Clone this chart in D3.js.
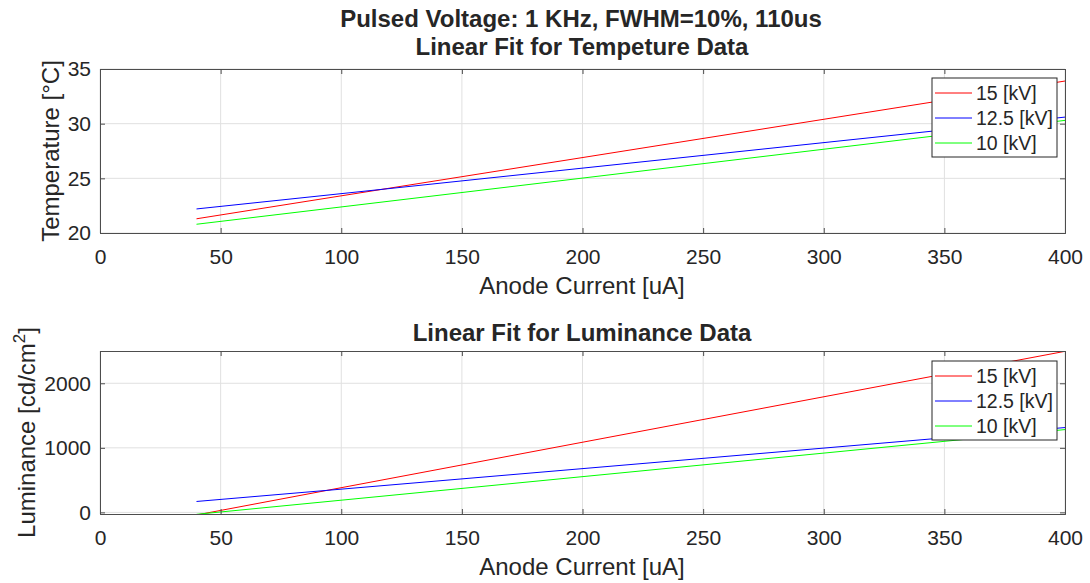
<!DOCTYPE html>
<html>
<head>
<meta charset="utf-8">
<script src="https://cdn.jsdelivr.net/npm/d3@7"></script>
<style>
  body { margin: 0; background: #fff; }
  text { font-family: "Liberation Sans", Arial, sans-serif; fill: #262626; }
  .grid line { stroke: #e0e0e0; stroke-width: 1; }
  .axis path, .axis line { stroke: #4d4d4d; }
</style>
</head>
<body>
<div id="chart"></div>
<script>
// datos
const series = ["15 [kV]", "12.5 [kV]", "10 [kV]"]
const colores = ["#ff0000", "#0000ff", "#00ff00"]
const corriente = [40, 400]
const tempFit = [
  [21.3, 33.9],
  [22.2, 30.6],
  [20.8, 30.3]
]
const lumFit = [
  [-40, 2495],
  [169, 1314],
  [-30, 1283]
]
const xTicks = [0, 50, 100, 150, 200, 250, 300, 350, 400]
const tempTicks = [20, 25, 30, 35]
const lumTicks = [0, 1000, 2000]

const W = 1090, H = 583
const svg = d3.select("#chart").append("svg")
  .attr("width", W).attr("height", H)

const left = 100, right = 1065

// titulo general
svg.append("text").attr("x", 581).attr("y", 27)
  .attr("text-anchor", "middle").attr("font-size", 24).attr("font-weight", "bold")
  .attr("fill", "#000")
  .text("Pulsed Voltage: 1 KHz, FWHM=10%, 110us")

function panel(cfg) {
  const x = d3.scaleLinear().domain([0, 400]).range([left, right])
  const y = d3.scaleLinear().domain(cfg.yDomain).range([cfg.bottom, cfg.top])
  const g = svg.append("g")

  // grid
  const grid = g.append("g").attr("class", "grid")
  grid.selectAll(".gx").data(xTicks).enter().append("line")
    .attr("x1", d => x(d)).attr("x2", d => x(d))
    .attr("y1", cfg.top).attr("y2", cfg.bottom)
  grid.selectAll(".gy").data(cfg.yTicks).enter().append("line")
    .attr("x1", left).attr("x2", right)
    .attr("y1", d => y(d)).attr("y2", d => y(d))

  // lineas
  const clipId = "clip" + cfg.top
  g.append("clipPath").attr("id", clipId).append("rect")
    .attr("x", left).attr("y", cfg.top).attr("width", right - left).attr("height", cfg.bottom - cfg.top)
  const line = d3.line().x((d, i) => x(corriente[i])).y(d => y(d))
  g.append("g").attr("clip-path", `url(#${clipId})`)
    .selectAll("path").data(cfg.data).enter().append("path")
    .attr("d", d => line(d))
    .attr("fill", "none")
    .attr("stroke", (d, i) => colores[i])
    .attr("stroke-width", 1)

  // ejes
  const tl = 5
  g.append("g").attr("class", "axis").attr("transform", `translate(0,${cfg.bottom})`)
    .call(d3.axisBottom(x).tickValues(xTicks).tickSize(-tl))
    .call(a => a.selectAll("text").attr("font-size", 21).attr("dy", null).attr("y", 31))
  g.append("g").attr("class", "axis").attr("transform", `translate(0,${cfg.top})`)
    .call(d3.axisTop(x).tickValues(xTicks).tickSize(-tl).tickFormat(""))
  g.append("g").attr("class", "axis").attr("transform", `translate(${left},0)`)
    .call(d3.axisLeft(y).tickValues(cfg.yTicks).tickSize(-tl).tickPadding(9).tickFormat(d3.format("d")))
    .call(a => a.selectAll("text").attr("font-size", 21))
  g.append("g").attr("class", "axis").attr("transform", `translate(${right},0)`)
    .call(d3.axisRight(y).tickValues(cfg.yTicks).tickSize(-tl).tickFormat(""))

  // titulo
  g.append("text").attr("x", 582).attr("y", cfg.titleY)
    .attr("text-anchor", "middle").attr("font-size", 24).attr("font-weight", "bold")
    .attr("fill", "#000")
    .text(cfg.title)
  // xlabel
  g.append("text").attr("x", 582).attr("y", cfg.bottom + 61)
    .attr("text-anchor", "middle").attr("font-size", 24)
    .text("Anode Current [uA]")
  // ylabel
  const yl = g.append("text")
    .attr("transform", `translate(${cfg.ylx},${(cfg.top + cfg.bottom) / 2}) rotate(-90)`)
    .attr("text-anchor", "middle").attr("font-size", 24)
  cfg.ylabel(yl)

  // leyenda
  const lg = g.append("g").attr("transform", `translate(932,${cfg.legTop})`)
  lg.append("rect").attr("width", 125).attr("height", 79)
    .attr("fill", "#fff").attr("stroke", "#262626").attr("stroke-width", 1)
  series.forEach((s, i) => {
    const yy = 15 + i * 25
    lg.append("line").attr("x1", 3).attr("x2", 40).attr("y1", yy).attr("y2", yy)
      .attr("stroke", colores[i]).attr("stroke-width", 1)
    lg.append("text").attr("x", 44).attr("y", yy + 7).attr("font-size", 19.5).text(s)
  })
}

panel({
  top: 69, bottom: 233, yDomain: [20, 35], yTicks: tempTicks, data: tempFit,
  title: "Linear Fit for Tempeture Data", titleY: 55, ylx: 59, legTop: 78,
  ylabel: t => t.text("Temperature [°C]")
})
panel({
  top: 351, bottom: 514, yDomain: [-25, 2500], yTicks: lumTicks, data: lumFit,
  title: "Linear Fit for Luminance Data", titleY: 341, ylx: 35, legTop: 361,
  ylabel: t => {
    t.append("tspan").text("Luminance [cd/cm")
    t.append("tspan").attr("dy", -10).attr("font-size", 17).text("2")
    t.append("tspan").attr("dy", 10).text("]")
  }
})
</script>
</body>
</html>
